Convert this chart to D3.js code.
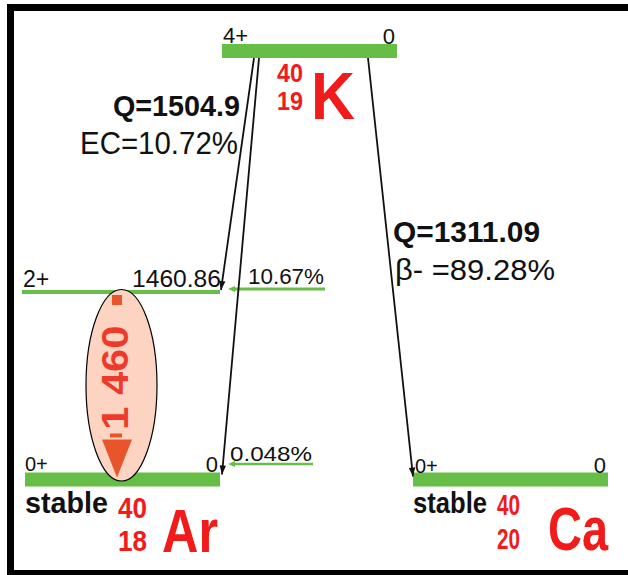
<!DOCTYPE html>
<html>
<head>
<meta charset="utf-8">
<script src="https://cdn.jsdelivr.net/npm/d3@7/dist/d3.min.js"></script>
<style>
  html, body { margin: 0; padding: 0; background: #fff; }
  svg { display: block; }
  text { font-family: "Liberation Sans", Arial, Helvetica, sans-serif; }
</style>
</head>
<body>
<svg id="chart" width="628" height="575"></svg>
<script>
// ---- Decay scheme of 40K ----------------------------------------------
// Nuclides (column order left to right)
const nuclides      = ["Ar", "K", "Ca"];
const massNumbers   = [40, 40, 40];
const atomicNumbers = [18, 19, 20];
const stableFlags   = [true, false, true];

// Nuclear levels: owner, spin-parity, excitation energy label, drawn height (keV above 40Ar g.s.)
const levelNuclide = ["K", "Ar", "Ar", "Ca"];
const levelSpin    = ["4+", "2+", "0+", "0+"];
const levelEnergy  = [0, 1460.86, 0, 0];
const levelHeight  = [1504.9, 1460.86, 0, 0];
const levelKind    = ["state", "excited", "state", "state"];

// Decay modes of the parent
const decayModes   = ["EC", "β-"];
const decayQ       = [1504.9, 1311.09];
const decayShare   = [10.72, 89.28];

// Feeding branches (parent level 0 -> daughter level)
const branchMode      = ["EC", "EC", "β-"];
const branchTo        = [1, 2, 3];
const branchIntensity = [10.67, 0.048, 89.28];

// Gamma transition in 40Ar
const gammaEnergy = [1460];

// ---- Layout ------------------------------------------------------------
const svg = d3.select("#chart");
const GREEN = "#66be46", RED = "#f21b1b", INK = "#111";

// column extents for each nuclide
const colX = d3.scaleOrdinal().domain(nuclides).range([[25, 220], [222, 397], [413, 608]]);
// piecewise energy scale (not to scale between the branches)
const y = d3.scaleLinear().domain([0, 1460.86, 1504.9]).range([479.5, 292, 51]);

function txt(x, yy, s, o = {}) {
  const t = svg.append("text")
    .attr("x", x).attr("y", yy)
    .attr("font-size", o.size || 22)
    .attr("font-weight", o.weight || "normal")
    .attr("fill", o.fill || INK)
    .attr("text-anchor", o.anchor || "start")
    .text(s);
  if (o.len) t.attr("textLength", o.len).attr("lengthAdjust", "spacingAndGlyphs");
  if (o.transform) t.attr("transform", o.transform);
  return t;
}

function arrow(x1, y1, x2, y2, color, w, head) {
  svg.append("line").attr("x1", x1).attr("y1", y1).attr("x2", x2).attr("y2", y2)
    .attr("stroke", color).attr("stroke-width", w);
  const a = Math.atan2(y2 - y1, x2 - x1), L = head[0], H = head[1];
  const bx = x2 - L * Math.cos(a), by = y2 - L * Math.sin(a);
  const px = -Math.sin(a) * H, py = Math.cos(a) * H;
  svg.append("polygon")
    .attr("points", [[x2, y2], [bx + px, by + py], [bx - px, by - py]].map(p => p.join(",")).join(" "))
    .attr("fill", color);
}

// frame
svg.append("path").attr("d", "M10.5,575 V7.5 H640").attr("fill", "none")
  .attr("stroke", "#000").attr("stroke-width", 7);
svg.append("rect").attr("x", 7).attr("y", 570).attr("width", 621).attr("height", 6).attr("fill", "#000");

// ---- level bars ----
levelNuclide.forEach((n, i) => {
  const [x0, x1] = colX(n);
  const yy = y(levelHeight[i]);
  if (levelKind[i] === "state") {
    svg.append("rect").attr("x", x0).attr("y", yy - 7).attr("width", x1 - x0).attr("height", 14)
      .attr("fill", GREEN);
  } else {
    svg.append("rect").attr("x", x0 - 3).attr("y", yy - 2).attr("width", x1 - x0 + 3).attr("height", 4)
      .attr("fill", GREEN);
  }
});

// ---- level labels ----
const spinBase = [43, 287, 471, 473];
const spinDx = [1, -2, 0, 2];
const spinSize = [22, 23, 20, 20];
levelNuclide.forEach((n, i) => {
  const [x0, x1] = colX(n);
  txt(x0 + spinDx[i], spinBase[i], levelSpin[i], { size: spinSize[i] });
  const lab = levelEnergy[i] === 0 ? "0" : d3.format(".2f")(levelEnergy[i]);
  txt(x1 - (levelKind[i] === "state" ? 2 : -1), spinBase[i] + (i === 0 ? 1 : 0) + (i === 2 ? 1 : 0), lab,
      { size: levelKind[i] === "state" ? 22 : 23, anchor: "end", len: levelKind[i] === "state" ? null : 89 });
});

// ---- branch intensity side lines ----
const sideY   = [y(levelHeight[1]) - 3, y(levelHeight[2]) - 15.5];
const sideX1  = [325, 313];
const sideLen = [76, 82];
const sideSize = [22, 21];
branchIntensity.slice(0, 2).forEach((v, k) => {
  const x0 = 228, yy = sideY[k];
  svg.append("line").attr("x1", x0 + 4).attr("x2", sideX1[k]).attr("y1", yy).attr("y2", yy)
    .attr("stroke", GREEN).attr("stroke-width", k === 0 ? 3 : 2.5);
  svg.append("polygon")
    .attr("points", `${x0},${yy} ${x0 + 7},${yy - 3} ${x0 + 7},${yy + 3}`).attr("fill", GREEN);
  txt(sideX1[k] - 1, yy - 5 + (k === 1 ? 2 : 0), v + "%", { size: sideSize[k], anchor: "end", len: sideLen[k] });
});

// ---- decay arrows ----
const kBottom = y(levelHeight[0]) + 7;
arrow(254, kBottom, 221, y(levelHeight[1]) - 2, INK, 1.8, [9, 3.2]);
arrow(259, kBottom, 222, y(levelHeight[2]) - 5, INK, 1.8, [9, 3.2]);
arrow(368, kBottom, 413, y(levelHeight[3]) - 3, INK, 1.8, [9, 3.2]);

// ---- decay mode annotations ----
txt(240, 116, "Q=" + decayQ[0], { size: 30, weight: "bold", anchor: "end", len: 127 });
txt(238, 154, decayModes[0] + "=" + decayShare[0] + "%", { size: 32, anchor: "end", len: 158 });
txt(393, 242, "Q=" + decayQ[1], { size: 30, weight: "bold", len: 147 });
txt(395, 280, decayModes[1] + " =" + decayShare[1] + "%", { size: 30, len: 160 });

// ---- nuclide symbols: stacked A / Z followed by the element ----
const symX  = [118, 277, 497];
const symW  = [29, 26, 23];
const elemX = [162, 311, 548];
const elemW = [56, 44, 60];
const supBase = [518, 82, 515];
const subBase = [551, 110, 549];
const elemBase = [552, 119, 550];
const elemSize = [62, 66, 62];
const symSize = [30, 26, 30];
nuclides.forEach((n, i) => {
  const az = svg.append("text")
    .attr("font-size", symSize[i]).attr("font-weight", "bold").attr("fill", RED);
  az.append("tspan").attr("x", symX[i]).attr("y", supBase[i])
    .attr("textLength", symW[i]).attr("lengthAdjust", "spacingAndGlyphs")
    .text(String(massNumbers[i]));
  az.append("tspan").attr("x", symX[i]).attr("y", subBase[i])
    .attr("textLength", symW[i]).attr("lengthAdjust", "spacingAndGlyphs")
    .text(String(atomicNumbers[i]));
  txt(elemX[i], elemBase[i], n, { size: elemSize[i], weight: "bold", fill: RED, len: elemW[i] });
  if (stableFlags[i]) {
    const [x0] = colX(n);
    txt(x0, 513, "stable", { size: 30, weight: "bold", len: i === 0 ? 83 : 74 });
  }
});

// ---- 1460 keV gamma line ----
const gy0 = y(levelHeight[1]), gy1 = y(levelHeight[2]);
const gx = 117;
svg.append("ellipse").attr("cx", 121.5).attr("cy", (gy0 + gy1) / 2 - 0.5)
  .attr("rx", 35.5).attr("ry", (gy1 - gy0) / 2 + 2)
  .attr("fill", "#fdd4c2").attr("stroke", "#000").attr("stroke-width", 1.2);
const ORANGE = "#e8552c";
svg.append("rect").attr("x", gx - 5).attr("y", gy0 + 3).attr("width", 10).attr("height", 10).attr("fill", ORANGE);
svg.append("rect").attr("x", gx - 7).attr("y", gy1 - 46).attr("width", 12).attr("height", 4).attr("fill", ORANGE);
svg.append("polygon")
  .attr("points", `${gx - 15},${gy1 - 40} ${gx + 15},${gy1 - 40} ${gx},${gy1 - 2}`).attr("fill", ORANGE);
const spaced = d3.formatLocale({ decimal: ".", thousands: " ", grouping: [3], currency: ["", ""] }).format(",");
txt(0, 0, spaced(gammaEnergy[0]), {
  size: 36, weight: "bold", fill: "#ee3a2a", anchor: "middle", len: 104,
  transform: `translate(128,${(gy0 + gy1) / 2 - 8}) rotate(-90)`
});
</script>
</body>
</html>
